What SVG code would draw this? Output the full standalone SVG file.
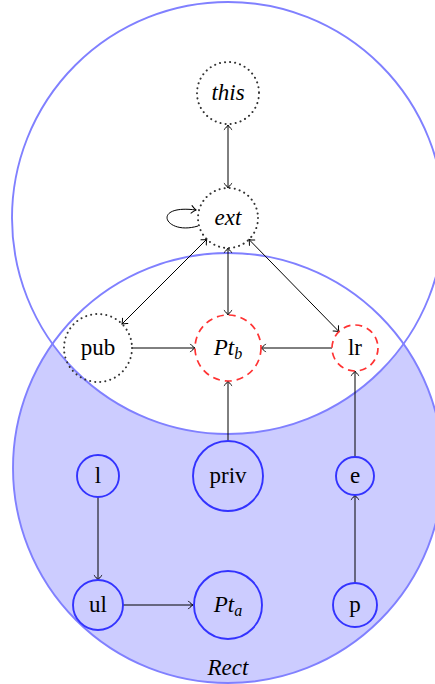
<svg xmlns="http://www.w3.org/2000/svg" width="435" height="684" viewBox="0 0 435 684">
<defs>
<marker id="to" viewBox="-6 -5 8 10" markerWidth="8" markerHeight="10" refX="0" refY="0" orient="auto-start-reverse" markerUnits="userSpaceOnUse">
<path d="M-4.5,-3.8 C-2.5,-1.6 -0.8,-0.5 0,0 C-0.8,0.5 -2.5,1.6 -4.5,3.8" fill="none" stroke="#000" stroke-width="1" stroke-linecap="round"/>
</marker>
<style>
.t{font-family:"Liberation Serif","DejaVu Serif",serif;font-size:23px;fill:#000;text-anchor:middle}
.i{font-style:italic}
.dot{fill:none;stroke:#333;stroke-width:2;stroke-dasharray:0.1 5;stroke-linecap:round}
.red{fill:none;stroke:#ff3333;stroke-width:1.7;stroke-dasharray:7 5}
.blue{fill:none;stroke:#3333ff;stroke-width:1.9}
.big{stroke:#8080ff;stroke-width:1.9}
.e{fill:none;stroke:#000;stroke-width:1}
</style>
</defs>
<g id="sets">
<circle cx="228" cy="468" r="215" fill="#ccccff"/>
<circle id="topset" cx="228" cy="218" r="216" fill="#fff" class="big"/>
<circle id="rect" cx="228" cy="468" r="215" fill="none" class="big"/>
<text class="t i" x="228" y="675">Rect</text>
</g>
<g id="connectors" class="e">
<line x1="228" y1="125" x2="228" y2="188" marker-start="url(#to)" marker-end="url(#to)"/>
<path d="M198,226 C165,236 150,204 196,210" marker-end="url(#to)"/>
<line x1="206.8" y1="239.2" x2="122" y2="324" marker-start="url(#to)" marker-end="url(#to)"/>
<line x1="228" y1="248" x2="228" y2="315" marker-start="url(#to)" marker-end="url(#to)"/>
<line x1="249" y1="239.5" x2="338.9" y2="331.5" marker-start="url(#to)" marker-end="url(#to)"/>
<line x1="132" y1="348" x2="195" y2="348" marker-end="url(#to)"/>
<line x1="332" y1="348" x2="261" y2="348" marker-end="url(#to)"/>
<line x1="228" y1="441" x2="228" y2="381" marker-end="url(#to)"/>
<line x1="355" y1="457" x2="355" y2="371" marker-end="url(#to)"/>
<line x1="98" y1="497" x2="98" y2="580" marker-end="url(#to)"/>
<line x1="123" y1="605" x2="193" y2="605" marker-end="url(#to)"/>
<line x1="355" y1="583" x2="355" y2="495" marker-end="url(#to)"/>
</g>
<g id="this"><circle cx="228" cy="93" r="31" class="dot"/><text class="t i" x="228" y="100">this</text></g>
<g id="ext"><circle cx="228" cy="218" r="30" class="dot"/><text class="t i" x="228" y="225">ext</text></g>
<g id="pub"><circle cx="98" cy="348" r="34" class="dot"/><text class="t" x="98" y="355">pub</text></g>
<g id="Ptb"><circle cx="228" cy="348" r="33" class="red"/><text class="t i" x="228" y="355">Pt<tspan font-size="16" dy="4">b</tspan></text></g>
<g id="lr"><circle cx="355" cy="348" r="23" class="red"/><text class="t" x="355" y="355">lr</text></g>
<g id="l"><circle cx="98" cy="476" r="21" class="blue"/><text class="t" x="98" y="483">l</text></g>
<g id="priv"><circle cx="228" cy="476" r="35" class="blue"/><text class="t" x="228" y="483">priv</text></g>
<g id="e"><circle cx="355" cy="476" r="19" class="blue"/><text class="t" x="355" y="483">e</text></g>
<g id="ul"><circle cx="98" cy="605" r="25" class="blue"/><text class="t" x="98" y="612">ul</text></g>
<g id="Pta"><circle cx="228" cy="605" r="34" class="blue"/><text class="t i" x="228" y="612">Pt<tspan font-size="16" dy="4">a</tspan></text></g>
<g id="p"><circle cx="355" cy="605" r="22" class="blue"/><text class="t" x="355" y="612">p</text></g>
</svg>
